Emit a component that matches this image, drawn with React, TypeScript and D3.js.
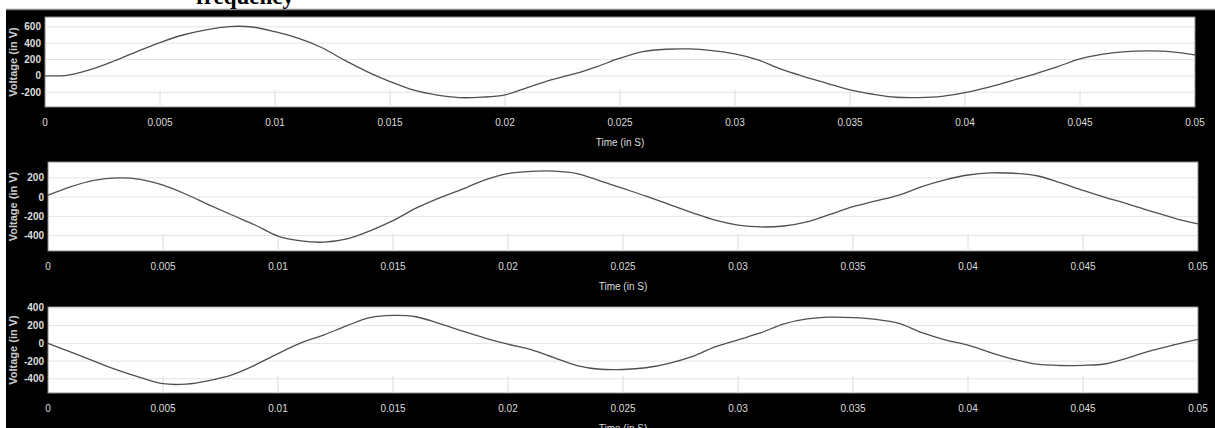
import React, { useEffect, useRef } from 'react';
import * as d3 from 'd3';

// sample times (s), one every millisecond
const times = [
  0, 0.001, 0.002, 0.003, 0.004, 0.005, 0.006, 0.007, 0.008, 0.009,
  0.01, 0.011, 0.012, 0.013, 0.014, 0.015, 0.016, 0.017, 0.018, 0.019,
  0.02, 0.021, 0.022, 0.023, 0.024, 0.025, 0.026, 0.027, 0.028, 0.029,
  0.03, 0.031, 0.032, 0.033, 0.034, 0.035, 0.036, 0.037, 0.038, 0.039,
  0.04, 0.041, 0.042, 0.043, 0.044, 0.045, 0.046, 0.047, 0.048, 0.049, 0.05,
];

const voltageA = [
  0, 10, 80, 182, 298, 408, 500, 563, 603, 598,
  540, 461, 350, 196, 53, -69, -171, -232, -265, -260,
  -232, -139, -49, 24, 114, 216, 297, 326, 330, 310,
  269, 196, 82, -8, -90, -171, -224, -261, -265, -250,
  -205, -140, -60, 20, 110, 207, 265, 298, 306, 295, 257,
];

const voltageB = [
  20, 110, 175, 200, 185, 124, 30, -80, -186, -290,
  -405, -455, -468, -435, -350, -245, -115, -10, 80, 180,
  245, 268, 270, 245, 170, 90, 10, -75, -160, -240,
  -290, -310, -300, -258, -180, -100, -40, 21, 110, 180,
  230, 252, 248, 222, 150, 70, -5, -75, -150, -220, -279,
];

const voltageC = [
  0, -100, -200, -300, -385, -455, -460, -420, -355, -245,
  -115, 5, 95, 200, 290, 315, 300, 225, 140, 60,
  -10, -70, -160, -250, -292, -295, -275, -225, -150, -40,
  40, 120, 220, 275, 295, 290, 270, 225, 120, 40,
  -20, -105, -180, -235, -250, -248, -230, -160, -80, -15, 45,
];

const xTicks = [0, 0.005, 0.01, 0.015, 0.02, 0.025, 0.03, 0.035, 0.04, 0.045, 0.05];
const xTickLabels = ['0', '0.005', '0.01', '0.015', '0.02', '0.025', '0.03', '0.035', '0.04', '0.045', '0.05'];
const yTicksA = [-200, 0, 200, 400, 600];
const yTicksB = [-400, -200, 0, 200];
const yTicksC = [-400, -200, 0, 200, 400];

const panels = [
  { values: voltageA, yTicks: yTicksA, yDomain: [-380, 720], left: 45, right: 1195, top: 17, bottom: 107 },
  { values: voltageB, yTicks: yTicksB, yDomain: [-560, 365], left: 48, right: 1198, top: 162, bottom: 251 },
  { values: voltageC, yTicks: yTicksC, yDomain: [-560, 410], left: 48, right: 1198, top: 307, bottom: 393 },
];

const labelFont = '"Liberation Sans Narrow", "Arial Narrow", "Liberation Sans", sans-serif';

export default function App() {
  const ref = useRef<SVGSVGElement>(null);

  useEffect(() => {
    const svg = d3.select(ref.current);
    svg.selectAll('*').remove();

    svg.append('rect').attr('width', 1215).attr('height', 428).attr('fill', '#000');
    // white strips left by the page crop
    svg.append('rect').attr('width', 1215).attr('height', 9).attr('fill', '#fff');
    svg.append('rect').attr('width', 6).attr('height', 428).attr('fill', '#fff');
    svg.append('line').attr('x1', 6).attr('x2', 1215).attr('y1', 9.5).attr('y2', 9.5)
      .attr('stroke', '#888').attr('stroke-width', 1.5);

    svg.append('text')
      .attr('x', 196).attr('y', 4)
      .attr('font-family', '"Liberation Serif", "Times New Roman", serif')
      .attr('font-weight', 'bold').attr('font-size', 23)
      .attr('fill', '#000')
      .text('frequency');

    panels.forEach(p => {
      const x = d3.scaleLinear().domain([0, 0.05]).range([p.left, p.right]);
      const y = d3.scaleLinear().domain(p.yDomain).range([p.bottom, p.top]);
      const g = svg.append('g');

      g.append('rect')
        .attr('x', p.left).attr('y', p.top)
        .attr('width', p.right - p.left).attr('height', p.bottom - p.top)
        .attr('fill', '#fff').attr('stroke', '#888').attr('stroke-width', 1);

      g.selectAll('.hgrid').data(p.yTicks).enter().append('line')
        .attr('x1', p.left + 1).attr('x2', p.right - 1)
        .attr('y1', d => y(d)).attr('y2', d => y(d))
        .attr('stroke', '#e4e4e4').attr('stroke-width', 1);

      g.selectAll('.vtick').data(xTicks.slice(1, -1)).enter().append('line')
        .attr('x1', d => x(d)).attr('x2', d => x(d))
        .attr('y1', p.bottom - 17).attr('y2', p.bottom)
        .attr('stroke', '#dcdcdc').attr('stroke-width', 1);

      g.append('path')
        .datum(p.values)
        .attr('fill', 'none')
        .attr('stroke', '#505050')
        .attr('stroke-width', 1.3)
        .attr('d', d3.line<number>()
          .x((d, i) => x(times[i]))
          .y(d => y(d))
          .curve(d3.curveCatmullRom));

      g.selectAll('.ylab').data(p.yTicks).enter().append('text')
        .attr('x', p.left - 4).attr('y', d => y(d))
        .attr('dy', '0.35em').attr('text-anchor', 'end')
        .attr('font-family', labelFont).attr('font-size', 10).attr('font-weight', 'bold')
        .attr('fill', '#ddd')
        .text(d => String(d));

      g.selectAll('.xlab').data(xTicks).enter().append('text')
        .attr('x', d => x(d)).attr('y', p.bottom + 19)
        .attr('text-anchor', 'middle')
        .attr('font-family', labelFont).attr('font-size', 10)
        .attr('fill', '#ddd')
        .text((d, i) => xTickLabels[i]);

      g.append('text')
        .attr('x', x(0.025)).attr('y', p.bottom + 39)
        .attr('text-anchor', 'middle')
        .attr('font-family', labelFont).attr('font-size', 10)
        .attr('fill', '#ddd')
        .text('Time (in S)');

      const cy = (p.top + p.bottom) / 2;
      g.append('text')
        .attr('transform', `translate(17,${cy}) rotate(-90)`)
        .attr('text-anchor', 'middle')
        .attr('font-family', '"Liberation Sans", Arial, sans-serif')
        .attr('font-size', 11).attr('font-weight', 'bold')
        .attr('fill', '#ccc')
        .text('Voltage (in V)');
    });
  }, []);

  return (
    <div style={{ position: 'fixed', left: 0, top: 0 }}>
      <svg ref={ref} width="1215" height="428" style={{ display: 'block' }} />
    </div>
  );
}
